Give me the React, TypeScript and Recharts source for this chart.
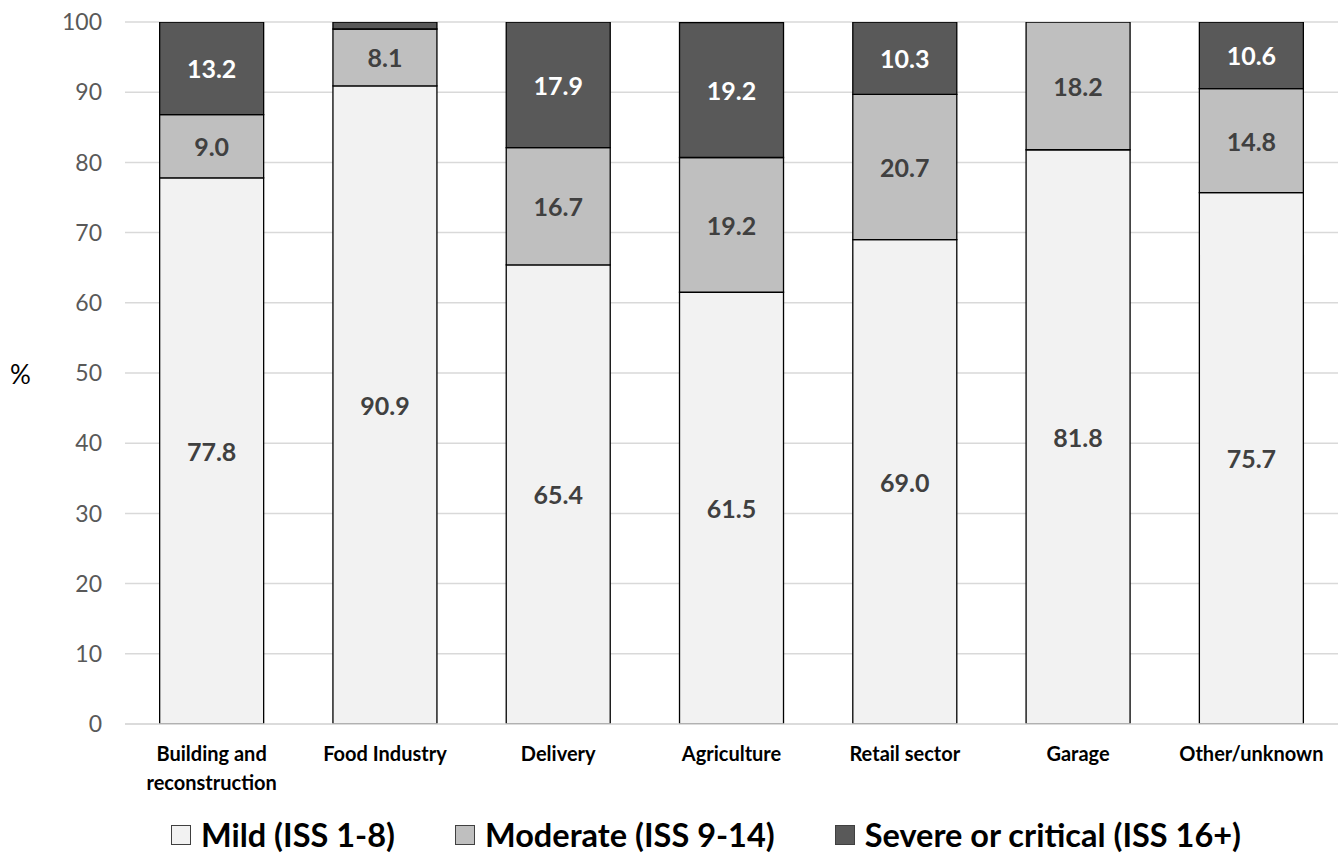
import { BarChart, Bar, XAxis, YAxis, CartesianGrid, Legend, LabelList } from 'recharts';

const categories = [
    'Building and reconstruction',
    'Food Industry',
    'Delivery',
    'Agriculture',
    'Retail sector',
    'Garage',
    'Other/unknown',
];
const mild = [77.8, 90.9, 65.4, 61.5, 69.0, 81.8, 75.7];
const moderate = [9.0, 8.1, 16.7, 19.2, 20.7, 18.2, 14.8];
const severe = [13.2, 1.0, 17.9, 19.2, 10.3, 0.0, 10.6];
const yTicks = [0, 10, 20, 30, 40, 50, 60, 70, 80, 90, 100];

const FONT = 'Lato, "Open Sans", sans-serif';

const series = [
    { key: 'mild', name: 'Mild (ISS 1-8)', fill: '#f2f2f2', labelColor: '#404040' },
    { key: 'moderate', name: 'Moderate (ISS 9-14)', fill: '#bfbfbf', labelColor: '#404040' },
    { key: 'severe', name: 'Severe or critical (ISS 16+)', fill: '#595959', labelColor: '#ffffff' },
];

const data = categories.map((name, i) => ({
    name,
    mild: mild[i],
    moderate: moderate[i],
    severe: severe[i],
}));

// two-line labels for the longer category names
const CategoryTick = (props: any) => {
    const { x, y, payload } = props;
    const lines = payload.value === 'Building and reconstruction'
        ? ['Building and', 'reconstruction']
        : [payload.value];
    return (
        <text x={x} y={y} textAnchor="middle" fill="#000" fontFamily={FONT} fontSize={20} fontWeight={700}>
            {lines.map((l, i) => (
                <tspan key={i} x={x} dy={i === 0 ? 29 : 29}>{l}</tspan>
            ))}
        </text>
    );
};

const makeLabel = (color: string) => (props: any) => {
    const { x, y, width, height, value } = props;
    if (value == null || value < 5) return null;
    return (
        <text
            x={x + width / 2}
            y={y + height / 2}
            textAnchor="middle"
            dominantBaseline="central"
            fill={color}
            fontFamily={FONT}
            fontSize={25}
            fontWeight={700}
        >
            {Number(value).toFixed(1)}
        </text>
    );
};

const LegendBox = () => (
    <div style={{
        display: 'flex',
        justifyContent: 'center',
        alignItems: 'center',
        gap: 60,
        paddingTop: 31,
        marginLeft: 74,
        fontFamily: FONT,
        fontSize: 32.5,
        fontWeight: 700,
        color: '#000',
    }}>
        {series.map(s => (
            <div key={s.key} style={{ display: 'flex', alignItems: 'center', gap: 10 }}>
                <span style={{
                    display: 'inline-block',
                    width: 18,
                    height: 18,
                    background: s.fill,
                    border: '1px solid #404040',
                }} />
                <span>{s.name}</span>
            </div>
        ))}
    </div>
);

const App = () => {
    return (
        <div style={{ position: 'absolute', left: 0, top: 0, width: 1343, height: 854, background: '#fff' }}>
            <div style={{
                position: 'absolute', left: 10, top: 358,
                fontFamily: FONT, fontSize: 26, color: '#000',
            }}>%</div>
            <BarChart
                width={1343}
                height={854}
                data={data}
                margin={{ top: 22, right: 5, left: 0, bottom: 0 }}
                barCategoryGap="20%"
            >
                <CartesianGrid vertical={false} stroke="#d9d9d9" strokeWidth={1.5} />
                <XAxis
                    dataKey="name"
                    height={60}
                    tick={<CategoryTick />}
                    tickLine={false}
                    axisLine={{ stroke: '#d9d9d9', strokeWidth: 1.5 }}
                    interval={0}
                />
                <YAxis
                    width={125}
                    domain={[0, 100]}
                    allowDataOverflow
                    ticks={yTicks}
                    tickSize={0}
                    tickMargin={23}
                    tickLine={false}
                    axisLine={false}
                    tick={{ fill: '#595959', fontSize: 23, fontFamily: FONT }}
                />
                <Legend verticalAlign="bottom" wrapperStyle={{ height: 70 }} content={<LegendBox />} />
                {series.map(s => (
                    <Bar
                        key={s.key}
                        dataKey={s.key}
                        name={s.name}
                        stackId="a"
                        fill={s.fill}
                        stroke="#000"
                        strokeWidth={1.3}
                        isAnimationActive={false}
                    >
                        <LabelList dataKey={s.key} content={makeLabel(s.labelColor)} />
                    </Bar>
                ))}
            </BarChart>
        </div>
    );
};

export default App;
